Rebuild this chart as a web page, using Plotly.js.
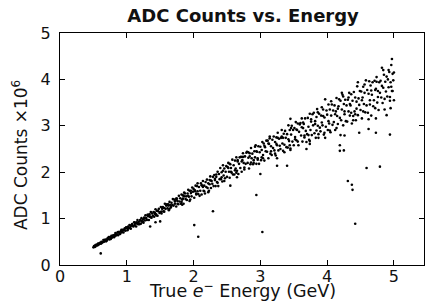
<!DOCTYPE html>
<html><head><meta charset="utf-8">
<script src="https://cdn.plot.ly/plotly-3.0.1.min.js"></script>
<style>html,body{margin:0;padding:0;background:#fff}#chart{width:425px;height:301px}</style>
</head><body><div id="chart"></div>
<script>
// Main band, low energy (GeV) / ADC counts (x10^6)
const energyLow = [
0.50,0.51,0.52,0.53,0.54,0.55,0.56,0.57,0.58,0.59,0.53,0.57,
0.60,0.61,0.62,0.63,0.64,0.65,0.66,0.67,0.68,0.69,0.62,0.66,
0.70,0.71,0.72,0.73,0.74,0.75,0.76,0.77,0.78,0.79,0.72,0.76,
0.80,0.81,0.82,0.83,0.84,0.85,0.86,0.87,0.88,0.89,0.83,0.87,
0.90,0.91,0.92,0.93,0.94,0.95,0.96,0.97,0.98,0.99,0.92,0.96,
1.00,1.01,1.02,1.03,1.04,1.05,1.06,1.07,1.08,1.09,1.02,1.06,
1.10,1.11,1.12,1.13,1.14,1.15,1.16,1.17,1.18,1.19,1.12,1.16,1.14,
1.20,1.21,1.22,1.23,1.24,1.25,1.26,1.27,1.28,1.29,1.22,1.26,1.24,
1.30,1.31,1.32,1.33,1.34,1.35,1.36,1.37,1.38,1.39,1.32,1.36,1.34,
1.40,1.41,1.42,1.43,1.44,1.45,1.46,1.47,1.48,1.49,1.42,1.46,1.44];
const adcLow = [
0.38,0.41,0.39,0.43,0.42,0.44,0.42,0.46,0.44,0.47,0.40,0.44,
0.48,0.46,0.50,0.49,0.49,0.54,0.50,0.53,0.55,0.51,0.47,0.54,
0.53,0.57,0.56,0.60,0.55,0.60,0.58,0.63,0.59,0.63,0.58,0.56,
0.64,0.60,0.65,0.69,0.64,0.66,0.70,0.64,0.71,0.68,0.63,0.71,
0.67,0.73,0.76,0.72,0.76,0.70,0.76,0.79,0.74,0.81,0.70,0.75,
0.80,0.75,0.83,0.80,0.86,0.80,0.78,0.86,0.88,0.84,0.78,0.84,
0.83,0.92,0.86,0.91,0.83,0.92,0.97,0.88,0.93,0.88,0.91,0.89,0.90,
0.97,0.89,1.01,0.94,0.98,0.91,1.02,0.96,1.07,1.01,0.94,1.00,0.93,
0.97,1.08,1.05,0.97,1.09,1.04,1.14,1.02,1.11,1.06,1.08,1.03,1.05,
1.14,1.04,1.13,1.20,1.09,1.17,1.06,1.16,1.21,1.12,1.10,1.17,1.07];

// Main band, mid energy
const energyMid = [
1.50,1.51,1.52,1.53,1.54,1.55,1.56,1.57,1.58,1.59,1.52,1.56,1.54,
1.60,1.61,1.62,1.63,1.64,1.65,1.66,1.67,1.68,1.69,1.62,1.66,1.64,
1.70,1.71,1.72,1.73,1.74,1.75,1.76,1.77,1.78,1.79,1.72,1.76,1.74,
1.80,1.81,1.82,1.83,1.84,1.85,1.86,1.87,1.88,1.89,1.82,1.86,1.84,
1.90,1.91,1.92,1.93,1.94,1.95,1.96,1.97,1.98,1.99,1.92,1.96,1.94,
2.00,2.01,2.02,2.03,2.04,2.05,2.06,2.07,2.08,2.09,2.02,2.06,2.04,
2.10,2.11,2.12,2.13,2.14,2.15,2.16,2.17,2.18,2.19,2.12,2.16,2.14,
2.20,2.21,2.22,2.23,2.24,2.25,2.26,2.27,2.28,2.29,2.22,2.26,2.24,
2.30,2.31,2.32,2.33,2.34,2.35,2.36,2.37,2.38,2.39,2.32,2.36,2.34,
2.40,2.41,2.42,2.43,2.44,2.45,2.46,2.47,2.48,2.49,2.42,2.46,2.44,
2.50,2.51,2.52,2.53,2.54,2.55,2.56,2.57,2.58,2.59,2.52,2.56,2.54,
2.60,2.61,2.62,2.63,2.64,2.65,2.66,2.67,2.68,2.69,2.62,2.66,2.64,
2.70,2.71,2.72,2.73,2.74,2.75,2.76,2.77,2.78,2.79,2.72,2.76,2.74,
2.80,2.81,2.82,2.83,2.84,2.85,2.86,2.87,2.88,2.89,2.82,2.86,2.84,
2.90,2.91,2.92,2.93,2.94,2.95,2.96,2.97,2.98,2.99,2.92,2.96,2.94];
const adcMid = [
1.14,1.25,1.11,1.21,1.25,1.16,1.23,1.32,1.21,1.28,1.15,1.15,1.23,
1.31,1.22,1.28,1.18,1.36,1.29,1.24,1.34,1.29,1.42,1.31,1.27,1.21,
1.28,1.41,1.32,1.39,1.26,1.43,1.38,1.31,1.49,1.37,1.37,1.32,1.43,
1.44,1.32,1.52,1.41,1.50,1.32,1.48,1.54,1.42,1.48,1.36,1.56,1.43,
1.40,1.54,1.62,1.47,1.60,1.41,1.55,1.48,1.67,1.58,1.49,1.60,1.38,
1.64,1.45,1.61,1.71,1.54,1.70,1.59,1.53,1.68,1.49,1.59,1.76,1.52,
1.60,1.76,1.52,1.71,1.81,1.60,1.71,1.54,1.79,1.68,1.72,1.59,1.68,
1.84,1.66,1.76,1.60,1.83,1.91,1.66,1.81,1.75,1.90,1.57,1.82,1.74,
1.70,1.94,1.83,1.70,1.90,1.79,2.01,1.70,1.96,1.85,1.86,1.77,1.95,
2.09,1.85,2.00,1.80,2.15,1.93,2.08,1.87,2.01,2.13,1.89,1.81,2.03,
1.90,2.11,2.20,2.01,1.88,2.17,2.09,1.99,2.27,1.95,2.09,2.01,2.18,
2.15,1.95,2.25,2.08,2.32,2.03,2.23,1.96,2.18,2.32,2.04,2.26,1.99,
2.09,2.33,2.01,2.26,2.41,2.20,2.10,2.34,2.18,2.42,2.23,2.06,2.33,
2.44,2.20,2.31,2.08,2.41,2.17,2.52,2.30,2.40,2.17,2.43,2.21,2.34,
2.20,2.45,2.32,2.58,2.18,2.44,2.30,2.56,2.18,2.43,2.55,2.27,2.45];

// Main band, high energy
const energyHigh = [
3.00,3.01,3.02,3.03,3.04,3.05,3.06,3.07,3.08,3.09,3.02,3.06,3.04,
3.10,3.11,3.12,3.13,3.14,3.15,3.16,3.17,3.18,3.19,3.12,3.16,3.14,
3.20,3.21,3.22,3.23,3.24,3.25,3.26,3.27,3.28,3.29,3.22,3.26,3.24,
3.30,3.31,3.32,3.33,3.34,3.35,3.36,3.37,3.38,3.39,3.32,3.36,3.34,
3.40,3.41,3.42,3.43,3.44,3.45,3.46,3.47,3.48,3.49,3.42,3.46,3.44,
3.50,3.51,3.52,3.53,3.54,3.55,3.56,3.57,3.58,3.59,3.52,3.56,3.54,
3.60,3.61,3.62,3.63,3.64,3.65,3.66,3.67,3.68,3.69,3.62,3.66,3.64,
3.70,3.71,3.72,3.73,3.74,3.75,3.76,3.77,3.78,3.79,3.72,3.76,3.74,
3.80,3.81,3.82,3.83,3.84,3.85,3.86,3.87,3.88,3.89,3.82,3.86,3.84,
3.90,3.91,3.92,3.93,3.94,3.95,3.96,3.97,3.98,3.99,3.92,3.96,3.94,
4.00,4.01,4.02,4.03,4.04,4.05,4.06,4.07,4.08,4.09,4.02,4.06,4.04,
4.10,4.11,4.12,4.13,4.14,4.15,4.16,4.17,4.18,4.19,4.12,4.16,4.14,
4.20,4.21,4.22,4.23,4.24,4.25,4.26,4.27,4.28,4.29,4.22,4.26,4.24,
4.30,4.31,4.32,4.33,4.34,4.35,4.36,4.37,4.38,4.39,4.32,4.36,4.34,
4.40,4.41,4.42,4.43,4.44,4.45,4.46,4.47,4.48,4.49,4.42,4.46,4.44,
4.50,4.51,4.52,4.53,4.54,4.55,4.56,4.57,4.58,4.59,4.52,4.56,4.54,
4.60,4.61,4.62,4.63,4.64,4.65,4.66,4.67,4.68,4.69,4.62,4.66,4.64,
4.70,4.71,4.72,4.73,4.74,4.75,4.76,4.77,4.78,4.79,4.72,4.76,4.74,
4.80,4.81,4.82,4.83,4.84,4.85,4.86,4.87,4.88,4.89,4.82,4.86,4.84,
4.90,4.91,4.92,4.93,4.94,4.95,4.96,4.97,4.98,4.99,4.92,4.96,4.94];
const adcHigh = [
2.55,2.26,2.48,2.65,2.37,2.62,2.25,2.54,2.45,2.68,2.32,2.57,2.30,
2.44,2.68,2.30,2.61,2.77,2.40,2.56,2.37,2.70,2.52,2.62,2.45,2.73,
2.77,2.47,2.65,2.36,2.75,2.58,2.85,2.47,2.72,2.57,2.40,2.74,2.61,
2.50,2.74,2.91,2.62,2.46,2.83,2.59,2.89,2.74,2.54,2.77,2.43,2.74,
2.82,2.53,3.01,2.67,2.91,2.51,2.81,3.00,2.66,2.91,2.71,2.95,2.58,
2.58,2.95,2.76,3.08,2.69,2.91,3.05,2.58,2.87,3.03,2.71,2.66,2.92,
3.06,2.79,3.16,2.66,2.95,3.04,2.75,3.16,2.89,2.65,2.97,2.79,3.07,
2.82,3.17,2.98,2.70,3.26,2.91,3.09,2.80,3.25,3.01,2.80,3.14,2.67,
3.28,2.84,3.10,2.74,3.19,3.36,3.00,2.82,3.26,2.96,3.04,3.29,2.90,
2.88,3.22,3.40,3.01,3.35,2.81,3.18,3.57,2.98,3.33,3.07,2.85,3.21,
3.24,2.91,3.46,3.05,3.35,2.86,3.22,3.46,3.02,3.33,3.10,3.53,2.90,
3.08,3.44,2.91,3.31,3.60,3.21,3.04,3.42,3.57,3.17,3.25,3.37,2.95,
3.54,3.12,3.35,3.67,3.01,3.47,3.25,3.56,3.10,3.44,3.71,3.31,3.63,
3.09,3.56,3.31,3.71,3.22,3.44,3.68,3.05,3.54,3.21,3.61,3.28,3.47,
3.73,3.31,3.61,3.12,3.52,3.85,3.23,3.59,3.45,3.75,3.25,3.94,3.37,
3.34,3.74,3.16,3.61,3.84,3.47,3.71,3.29,3.98,3.44,3.55,3.89,3.31,
3.77,3.28,3.69,3.96,3.46,3.87,3.22,3.67,3.94,3.42,3.14,3.76,3.55,
3.55,3.97,3.38,3.80,4.05,3.50,3.75,3.34,3.94,3.71,3.77,3.62,3.95,
3.97,3.61,4.25,3.49,3.82,4.10,3.58,3.95,3.74,4.06,3.86,3.35,4.20,
3.63,4.00,3.83,4.16,3.54,3.94,4.31,3.75,4.12,3.98,4.20,3.84,3.62];

// Points off the main band
const energyStray = [0.61,1.35,1.43,1.50,2.01,2.07,2.29,2.94,3.03,1.83,2.55,2.65,2.90,3.00,3.25,3.25,3.40,3.45,3.45,3.69,3.74,3.87,3.97,4.20,4.26,4.19,4.19,4.25,4.39,4.31,4.37,4.38,4.48,4.42,4.62,4.59,4.73,4.73,4.79,4.89,4.97,4.94,4.95,5.00,4.98,5.00];
const adcStray    = [0.25,0.83,0.92,0.94,0.86,0.61,1.16,1.51,0.71,1.30,1.71,1.89,2.26,1.96,2.30,2.14,2.14,3.15,2.48,2.50,2.61,2.74,2.74,2.80,2.79,2.58,2.46,2.47,3.12,1.81,1.73,1.62,2.85,0.89,2.93,2.09,2.85,3.16,2.12,3.23,4.44,2.81,3.38,3.55,3.75,4.15];

const xTicks = [0,1,2,3,4,5];
const yTicks = [0,1,2,3,4,5];

const energy = energyLow.concat(energyMid, energyHigh, energyStray);
const adc = adcLow.concat(adcMid, adcHigh, adcStray);

const FONT = 'DejaVu Sans, sans-serif';
const trace = {
  x: energy, y: adc, type: 'scatter', mode: 'markers',
  marker: {color: '#000', size: 2.6, line: {width: 0}},
  hoverinfo: 'skip'
};
const axisBase = {
  showline: true, linecolor: '#000', linewidth: 1, mirror: 'ticks',
  ticks: 'inside', ticklen: 5, tickwidth: 1, tickcolor: '#000',
  showgrid: false, zeroline: false,
  tickfont: {family: FONT, size: 16, color: '#111'}
};
const layout = {
  width: 425, height: 301,
  margin: {l: 60, r: 1, t: 33, b: 36},
  paper_bgcolor: '#fff', plot_bgcolor: '#fff',
  showlegend: false,
  title: {text: '<b>ADC Counts vs. Energy</b>', font: {family: FONT, size: 18, color: '#111'},
          xref: 'container', x: 0.572, xanchor: 'center', yref: 'container', y: 0.947, yanchor: 'middle'},
  xaxis: Object.assign({}, axisBase, {
    range: [0, 5.45], tickvals: xTicks, ticktext: xTicks.map(String), ticklabelstandoff: -3
  }),
  yaxis: Object.assign({}, axisBase, {
    range: [0, 5], tickvals: yTicks, ticktext: yTicks.map(String), ticklabelstandoff: 5
  }),
  annotations: [
    {text: 'True <i>e</i><sup>−</sup> Energy (GeV)', xref: 'paper', yref: 'paper', x: 0.5, y: 0,
     xanchor: 'center', yanchor: 'middle', yshift: -25, showarrow: false,
     font: {family: FONT, size: 17.5, color: '#111'}},
    {text: 'ADC Counts ×10<sup>6</sup>', xref: 'paper', yref: 'paper', x: 0, y: 0.474,
     xanchor: 'center', yanchor: 'middle', xshift: -40, textangle: -90, showarrow: false,
     font: {family: FONT, size: 17, color: '#111'}}
  ]
};
Plotly.newPlot('chart', [trace], layout, {staticPlot: true, displayModeBar: false});
</script>
</body></html>
